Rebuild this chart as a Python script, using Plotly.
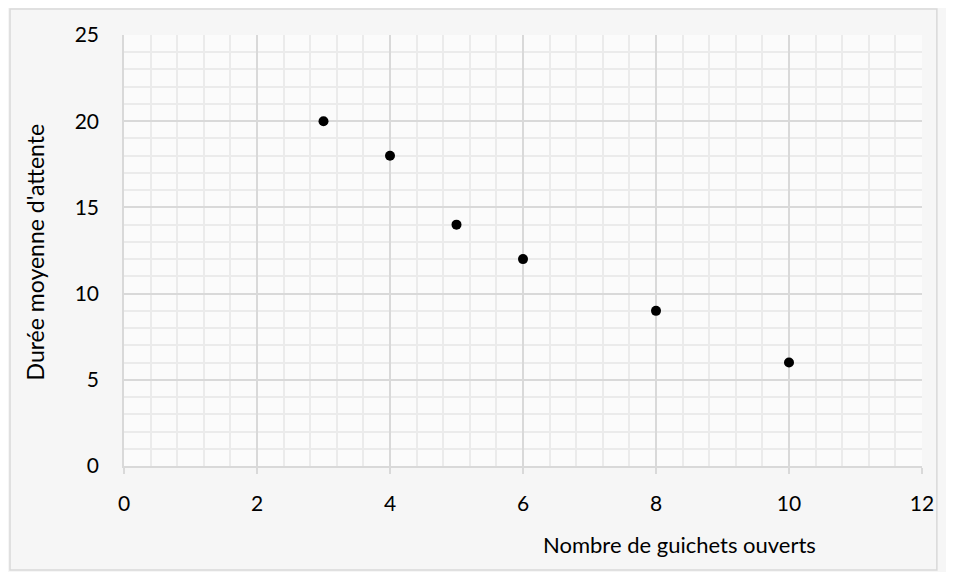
import plotly.graph_objects as go

guichets = [3, 4, 5, 6, 8, 10]
attente = [20, 18, 14, 12, 9, 6]
x_ticks = [0, 2, 4, 6, 8, 10, 12]
y_ticks = [0, 5, 10, 15, 20, 25]

FONT = "Lato, Open Sans, sans-serif"
FS = 21

fig = go.Figure()
fig.add_trace(go.Scatter(
    x=guichets, y=attente, mode="markers",
    marker=dict(color="black", size=10),
    showlegend=False, hoverinfo="x+y",
))

fig.update_layout(
    width=938, height=564,
    margin=dict(l=116, r=17, t=27, b=106),
    paper_bgcolor="#f6f6f6",
    plot_bgcolor="#fbfbfb",
    font=dict(family=FONT, size=FS, color="#000000"),
    xaxis=dict(
        range=[0, 12], tickvals=x_ticks, ticktext=[str(v) for v in x_ticks],
        showgrid=True, gridcolor="#d9d9d9", gridwidth=1.5,
        minor=dict(dtick=0.4, showgrid=True, gridcolor="#ebebeb", gridwidth=1.5, ticks=""),
        showline=True, linecolor="#d9d9d9", linewidth=1.5,
        ticks="outside", ticklen=6, tickcolor="#d9d9d9", tickwidth=1.5,
        ticklabelstandoff=12,
        zeroline=False, fixedrange=True,
        tickfont=dict(size=FS, family=FONT),
    ),
    yaxis=dict(
        range=[0, 25], tickvals=y_ticks, ticktext=[str(v) for v in y_ticks],
        showgrid=True, gridcolor="#d9d9d9", gridwidth=1.5,
        minor=dict(dtick=1, showgrid=True, gridcolor="#ebebeb", gridwidth=1.5, ticks=""),
        showline=True, linecolor="#d9d9d9", linewidth=1.5,
        ticks="", ticklabelstandoff=19,
        zeroline=False, fixedrange=True,
        tickfont=dict(size=FS, family=FONT),
    ),
    annotations=[
        dict(text="Nombre de guichets ouverts", xref="paper", yref="paper",
             x=0.696, y=-0.181, xanchor="center", yanchor="middle",
             showarrow=False, font=dict(size=22, family=FONT)),
        dict(text="Durée moyenne d'attente", xref="paper", yref="paper",
             x=-0.112, y=0.497, xanchor="center", yanchor="middle",
             textangle=-90, showarrow=False, font=dict(size=23, family=FONT)),
    ],
    shapes=[
        dict(type="rect", xref="paper", yref="paper",
             x0=-115 / 805, x1=1 + 15 / 805,
             y0=-104 / 431, y1=1 + 26 / 431,
             line=dict(color="#d9d9d9", width=1.5), layer="below"),
    ],
)

fig.write_html("out.html")
